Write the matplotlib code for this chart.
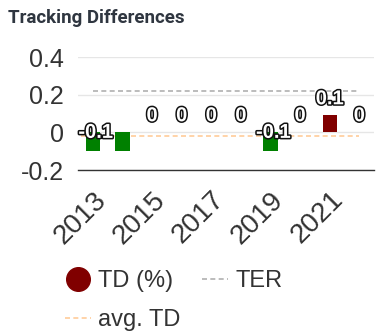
import matplotlib.pyplot as plt
import matplotlib.patheffects as pe
from matplotlib.lines import Line2D

years = [2013, 2014, 2015, 2016, 2017, 2018, 2019, 2020, 2021, 2022]
td_values = [-0.1, -0.1, 0, 0, 0, 0, -0.1, 0, 0.09, 0]
td_labels = ["-0.1", "", "0", "0", "0", "0", "-0.1", "0", "0.1", "0"]
ter = 0.22
avg_td = -0.02
yticks = [-0.2, 0, 0.2, 0.4]
ytick_labels = ["-0.2", "0", "0.2", "0.4"]

plt.rcParams["font.family"] = ["Liberation Sans", "DejaVu Sans"]

fig = plt.figure(figsize=(3.87, 3.36), dpi=100)
fig.patch.set_facecolor("white")
ax = fig.add_axes([0.2016, 0.494, 0.765, 0.336])

x = list(range(len(years)))
colors = ["#800000" if v > 0 else "#008000" for v in td_values]
ax.bar(x, td_values, width=0.48, color=colors, zorder=3)

ax.plot([0, len(years) - 1], [ter, ter], color="#b0b0b0", linestyle=(0, (3, 2)),
        linewidth=1.2, zorder=2)
ax.plot([-0.4, len(years) - 1], [avg_td, avg_td], color="#ffcc99",
        linestyle=(0, (3, 2)), linewidth=1.2, zorder=2)

stroke = [pe.withStroke(linewidth=2.2, foreground="#111111")]
for xi, v, lab in zip(x, td_values, td_labels):
    if not lab:
        continue
    if v >= 0:
        ax.annotate(lab, (xi, v), xytext=(0, 12), textcoords="offset points",
                    ha="center", va="center", fontsize=14.5, fontweight="bold",
                    color="white", path_effects=stroke, zorder=5)
    else:
        ax.annotate(lab, (xi, 0), xytext=(2, 0), textcoords="offset points",
                    ha="center", va="center", fontsize=14.5, fontweight="bold",
                    color="white", path_effects=stroke, zorder=5)

ax.set_xlim(-0.5, len(years) - 0.5)
ax.set_ylim(-0.2, 0.4)
ax.set_yticks(yticks)
ax.set_yticklabels(ytick_labels)
ax.yaxis.grid(True, color="#e6e6e6", linewidth=1, zorder=0)
ax.set_xticks(x[::2])
ax.set_xticklabels([str(y) for y in years[::2]], rotation=45, ha="right",
                   rotation_mode="anchor")
ax.tick_params(axis="y", length=0, labelsize=18, colors="#333333", pad=10)
ax.tick_params(axis="x", length=0, labelsize=20, colors="#333333", pad=12)
for s in ["top", "right", "left"]:
    ax.spines[s].set_visible(False)
ax.spines["bottom"].set_color("#333333")
ax.spines["bottom"].set_linewidth(1)

fig.text(0.02, 0.945, "Tracking Differences", fontsize=13.5, fontweight="bold",
         color="#2f3640", family=["Roboto", "DejaVu Sans"], va="center")

handles = [
    Line2D([], [], marker="o", color="none", markerfacecolor="#800000",
           markeredgecolor="#800000", markersize=17, label="TD (%)"),
    Line2D([], [], color="#ffcc99", linestyle=(0, (3, 2)), linewidth=1.2,
           label="avg. TD"),
    Line2D([], [], color="#b0b0b0", linestyle=(0, (3, 2)), linewidth=1.2,
           label="TER"),
]
fig.legend(handles=handles, loc="upper left", bbox_to_anchor=(0.114, 0.259),
           ncol=2, frameon=False, fontsize=17, handlelength=1.1,
           handletextpad=0.3, columnspacing=0.9, labelspacing=0.72,
           labelcolor="#333333")

fig.savefig("out.png", dpi=100, facecolor="white")
